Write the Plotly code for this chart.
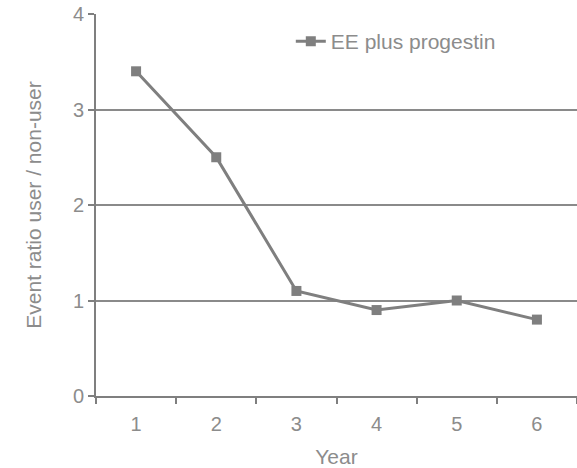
import plotly.graph_objects as go

years = [1, 2, 3, 4, 5, 6]
ratio = [3.4, 2.5, 1.1, 0.9, 1.0, 0.8]
series_name = "EE plus progestin"

gray = "#7f7f7f"
text_gray = "#8c8c8c"

fig = go.Figure()
fig.add_trace(go.Scatter(
    x=years, y=ratio, name=series_name, mode="lines+markers",
    line=dict(color=gray, width=3),
    marker=dict(symbol="square", size=10, color=gray),
))

fig.update_layout(
    width=577, height=468,
    margin=dict(l=96, r=0, t=14, b=72),
    paper_bgcolor="white", plot_bgcolor="white",
    font=dict(family="Liberation Sans, Arial, sans-serif", size=19, color=text_gray),
    showlegend=True,
    legend=dict(x=0.405, y=0.928, xanchor="left", yanchor="middle",
                bgcolor="rgba(0,0,0,0)", font=dict(size=21, color=text_gray),
                itemwidth=30),
    xaxis=dict(
        range=[0.5, 6.5], tickvals=years, ticktext=[str(v) for v in years],
        ticks="", showgrid=False, zeroline=False,
        showline=True, linecolor=gray, linewidth=2,
        minor=dict(tick0=0.5, dtick=1, ticks="outside", ticklen=6, tickcolor=gray, tickwidth=2, showgrid=False),
        title=dict(text="Year", standoff=19, font=dict(size=21)),
        tickfont=dict(size=20),
        ticklabelstandoff=9,
    ),
    yaxis=dict(
        range=[0, 4], tickvals=[0, 1, 2, 3, 4], ticks="outside", ticklen=6,
        tickcolor=gray, tickwidth=2,
        showgrid=True, gridcolor="#8a8a8a", gridwidth=1.5, zeroline=False,
        showline=True, linecolor=gray, linewidth=2,
        title=dict(text="Event ratio user / non-user", standoff=26, font=dict(size=21)),
        tickfont=dict(size=20),
    ),
)

fig.write_html("out.html", config={"displayModeBar": False},
               post_script="document.body.style.margin='0';")
